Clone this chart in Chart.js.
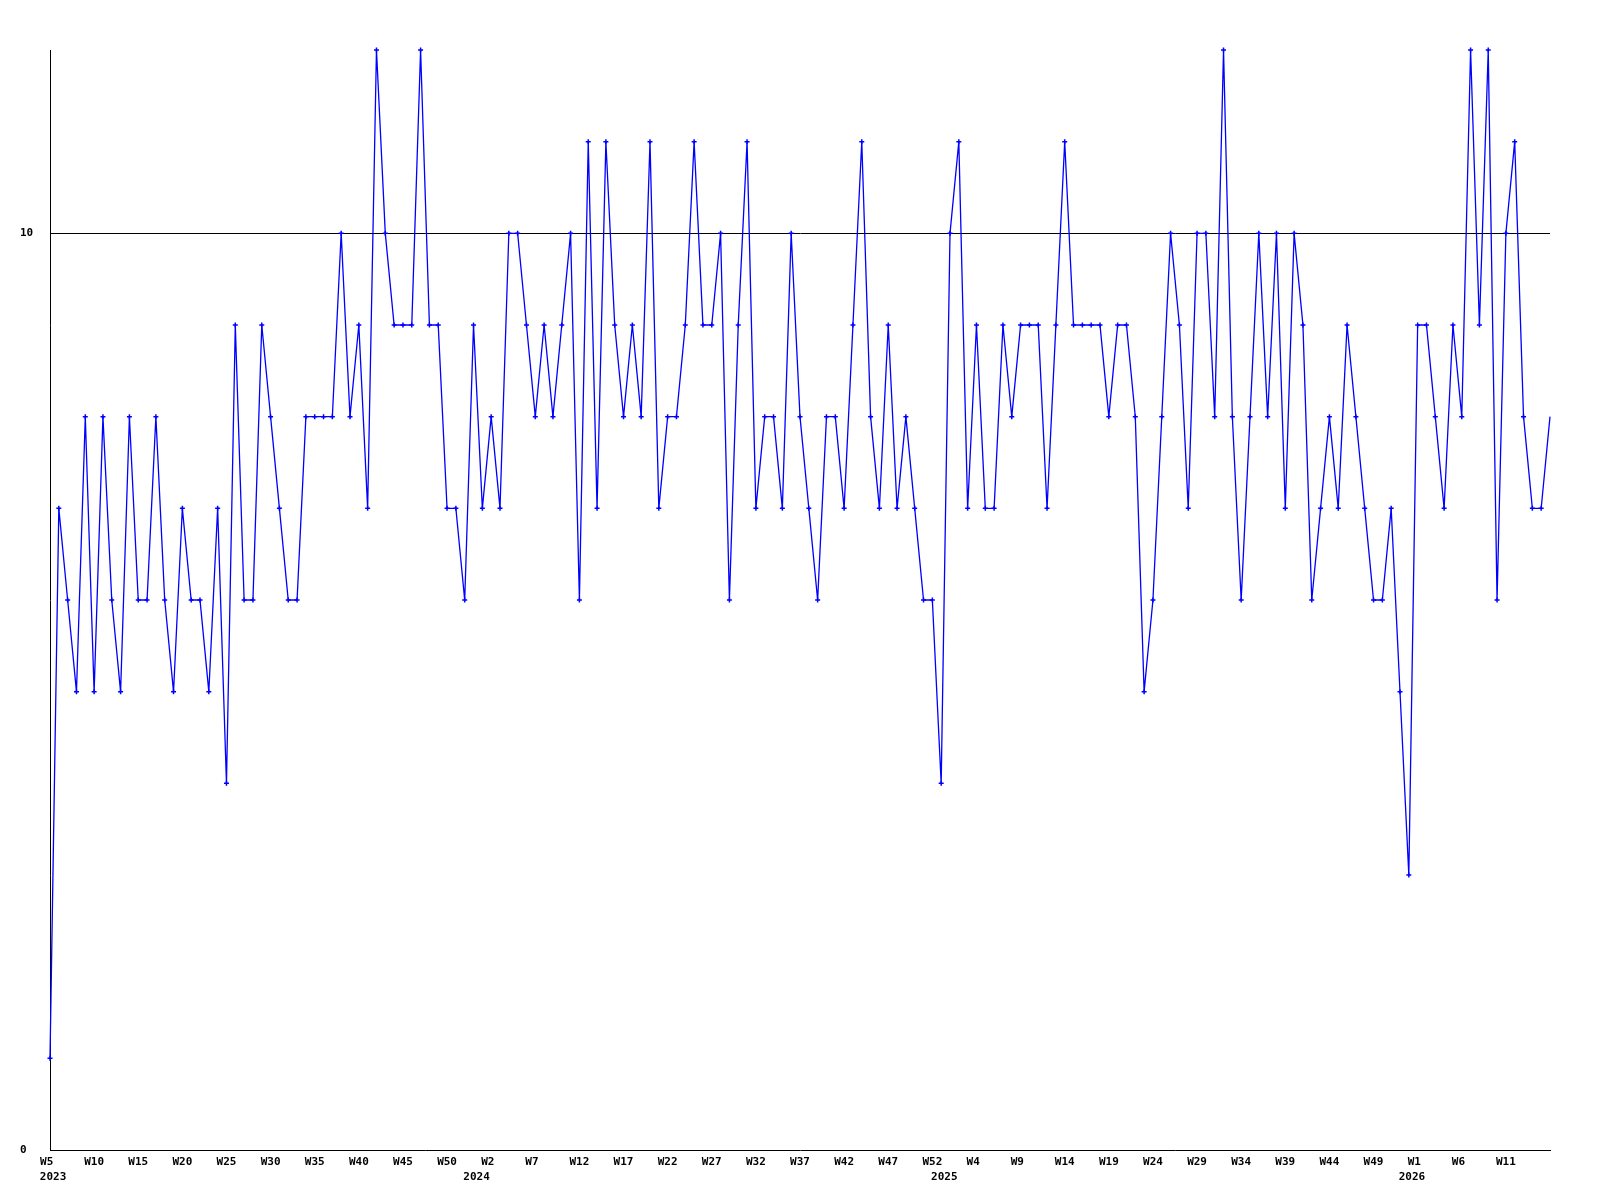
<!DOCTYPE html>
<html>
<head>
<meta charset="utf-8">
<script src="https://cdn.jsdelivr.net/npm/chart.js@4/dist/chart.umd.min.js"></script>
<style>
  html, body { margin: 0; padding: 0; background: #fff; }
  #wrap { width: 1600px; height: 1200px; position: relative; }
</style>
</head>
<body>
<div id="wrap"><canvas id="c"></canvas></div>
<script>
// Week segments of the category axis: [year, first week, last week]
const weekSegments = [
  [2023, 5, 53],
  [2024, 1, 53],
  [2025, 1, 53],
  [2026, 1, 16]
];

// Weekly values (one per week, W5 2023 .. W16 2026)
const values = [
  1, 7, 6, 5, 8, 5, 8, 6, 5, 8,
  6, 6, 8, 6, 5, 7, 6, 6, 5, 7,
  4, 9, 6, 6, 9, 8, 7, 6, 6, 8,
  8, 8, 8, 10, 8, 9, 7, 12, 10, 9,
  9, 9, 12, 9, 9, 7, 7, 6, 9, 7,
  8, 7, 10, 10, 9, 8, 9, 8, 9, 10,
  6, 11, 7, 11, 9, 8, 9, 8, 11, 7,
  8, 8, 9, 11, 9, 9, 10, 6, 9, 11,
  7, 8, 8, 7, 10, 8, 7, 6, 8, 8,
  7, 9, 11, 8, 7, 9, 7, 8, 7, 6,
  6, 4, 10, 11, 7, 9, 7, 7, 9, 8,
  9, 9, 9, 7, 9, 11, 9, 9, 9, 9,
  8, 9, 9, 8, 5, 6, 8, 10, 9, 7,
  10, 10, 8, 12, 8, 6, 8, 10, 8, 10,
  7, 10, 9, 6, 7, 8, 7, 9, 8, 7,
  6, 6, 7, 5, 3, 9, 9, 8, 7, 9,
  8, 12, 9, 12, 6, 10, 11, 8, 7, 7,
  8
];

// Tick labels
const yTickValues = [0, 10];
const weekTickStep = 5;
const lastWeekTick = 165;

// Build category labels ("W5 " style, padded to 3 chars) and year starts
const categories = [];
const yearNames = [];
const yearStartIdx = [];
weekSegments.forEach(([yr, w0, w1]) => {
  yearNames.push(String(yr));
  yearStartIdx.push(categories.length);
  for (let w = w0; w <= w1; w++) {
    const s = 'W' + w;
    categories.push(s.length < 3 ? s + ' ' : s);
  }
});
// year labels sit just before the first week of each year (first one under first tick)
const yearTickPos = yearStartIdx.map((i, k) => k === 0 ? i + 0.35 : i - 0.65);

const tickFont = { family: 'DejaVu Sans Mono', size: 11, weight: 'bold', lineHeight: 15 / 11 };
const lastIndex = values.length - 1;

new Chart(document.getElementById('c'), {
  type: 'line',
  data: {
    labels: categories,
    datasets: [{
      data: values,
      borderColor: '#0000ff',
      borderWidth: 1.3,
      tension: 0,
      fill: false,
      pointStyle: 'cross',
      pointRadius: ctx => ctx.dataIndex === lastIndex ? 0 : 2.5,
      pointBorderColor: '#0000ff',
      pointBorderWidth: 1.5,
      clip: false
    }]
  },
  options: {
    responsive: true,
    maintainAspectRatio: false,
    animation: false,
    devicePixelRatio: 1,
    layout: { padding: { left: 20, right: 50, top: 50, bottom: 0 } },
    plugins: { legend: { display: false }, tooltip: { enabled: false }, title: { display: false } },
    scales: {
      x: {
        type: 'category',
        position: 'bottom',
        weight: 0,
        offset: false,
        grid: { display: false, drawTicks: false },
        border: { display: true, color: '#000', width: 1 },
        ticks: {
          autoSkip: false, maxRotation: 0, minRotation: 0,
          padding: 5, color: '#000', font: tickFont
        },
        afterBuildTicks: s => {
          s.ticks = s.ticks.filter(t => t.value % weekTickStep === 0 && t.value <= lastWeekTick);
        },
        afterFit: s => { s.height = 20; }
      },
      x2: {
        type: 'linear',
        position: 'bottom',
        weight: 1,
        min: 0,
        max: lastIndex,
        grid: { display: false, drawTicks: false },
        border: { display: false },
        ticks: {
          autoSkip: false, maxRotation: 0, minRotation: 0,
          padding: 0, color: '#000', font: tickFont,
          callback: v => {
            const k = yearTickPos.indexOf(v);
            return k >= 0 ? yearNames[k] : '';
          }
        },
        afterBuildTicks: s => { s.ticks = yearTickPos.map(v => ({ value: v })); },
        afterFit: s => { s.height = 30; }
      },
      y: {
        type: 'linear',
        min: 0,
        max: 12,
        grid: {
          drawTicks: false,
          color: ctx => (ctx.tick && ctx.tick.value === 10) ? '#000' : 'rgba(0,0,0,0)',
          lineWidth: 1
        },
        border: { display: true, color: '#000', width: 1 },
        ticks: { crossAlign: 'far', padding: 0, color: '#000', font: tickFont },
        afterBuildTicks: s => { s.ticks = yTickValues.map(v => ({ value: v })); },
        afterFit: s => { s.width = 30; }
      }
    }
  }
});
</script>
</body>
</html>
